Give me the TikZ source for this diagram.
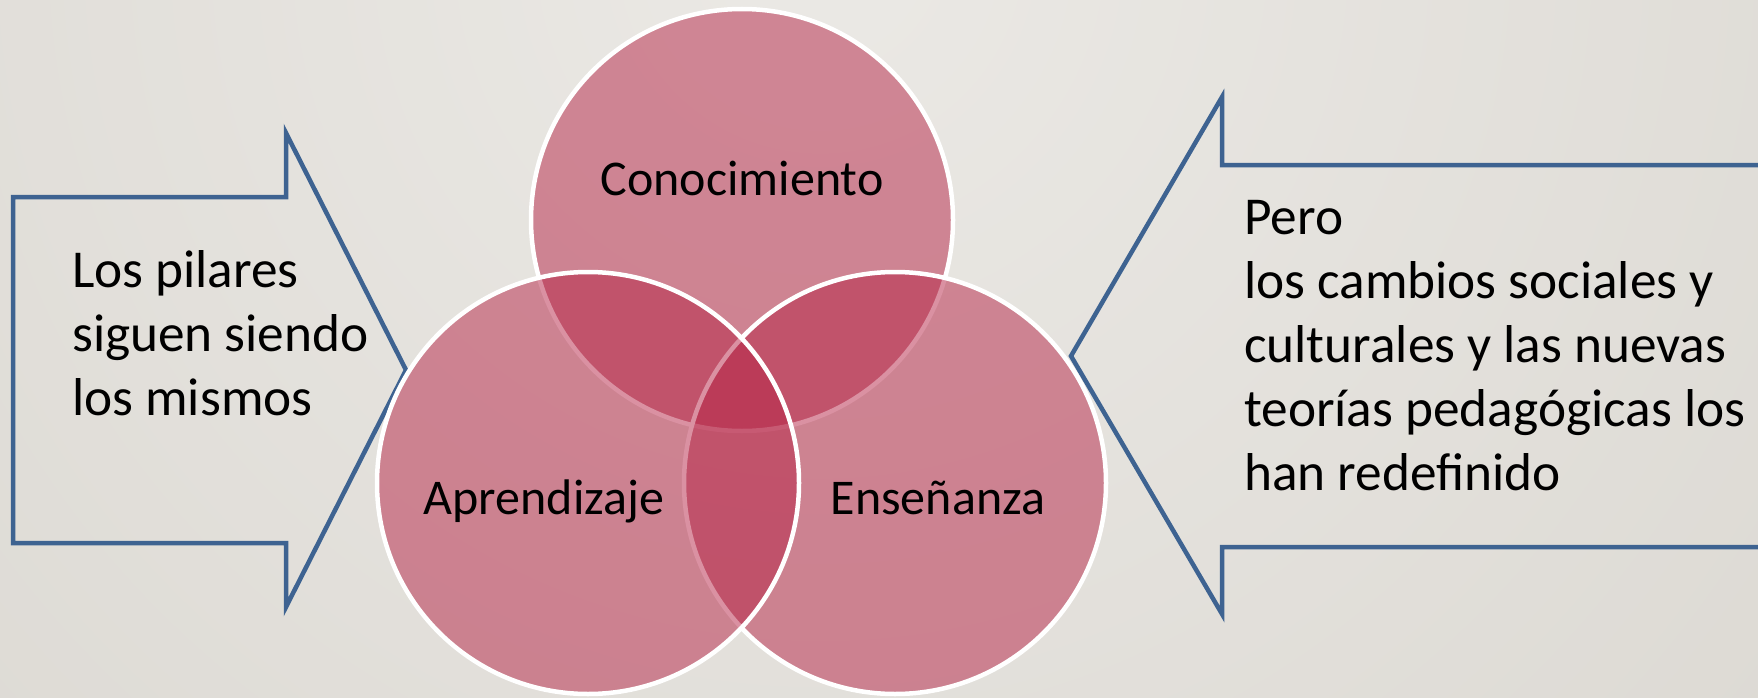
\documentclass[tikz,border=0pt]{standalone}
\usepackage{fontspec}
\setmainfont{Carlito}
\definecolor{bgA}{HTML}{EBE9E5}
\definecolor{bgB}{HTML}{DCD9D3}
\definecolor{arrowblue}{HTML}{3E6391}
\definecolor{venn}{RGB}{182,36,70}
\begin{document}
\begin{tikzpicture}[x=1pt,y=-1pt,
  vennc/.style={circle, minimum size=422pt, inner sep=0pt, fill=venn, fill opacity=0.5, draw=white, draw opacity=1, line width=4.5pt},
  arrowshape/.style={draw=arrowblue, line width=4.5pt, line join=miter},
  lbl/.style={font=\fontsize{50}{64}\selectfont, text=black, inner sep=0pt},
  side/.style={font=\fontsize{53.3}{64}\selectfont, text=black, inner sep=0pt, anchor=base west}]
\useasboundingbox (0,0) rectangle (1758,698);
\clip (0,0) rectangle (1758,698);
\shade[inner color=bgA, outer color=bgB] (820,-50) circle (1300pt);
% arrows
\draw[arrowshape] (13,197) -- (286,197) -- (286,133) -- (406,370) -- (286,607) -- (286,543) -- (13,543) -- cycle;
\draw[arrowshape] (1775,165) -- (1222,165) -- (1222,97) -- (1071,356) -- (1222,614) -- (1222,547) -- (1775,547);
% circles
\node[vennc] (ctop) at (742,220) {};
\node[vennc] (cright) at (895,483) {};
\node[vennc] (cleft) at (588,483) {};
% labels
\node[lbl, anchor=base] (lc) at (742,195) {Conocimiento};
\node[lbl, anchor=base] (la) at (544,514) {Aprendizaje};
\node[lbl, anchor=base] (le) at (938,514) {Enseñanza};
\node[side] (lt) at (72,287) {\begin{tabular}[t]{@{}l@{}}Los pilares\\siguen siendo\\los mismos\end{tabular}};
\node[side] (rt) at (1244,234) {\begin{tabular}[t]{@{}l@{}}Pero\\los cambios sociales y\\culturales y las nuevas\\teorías pedagógicas los\\han redefinido\end{tabular}};
\end{tikzpicture}
\end{document}
